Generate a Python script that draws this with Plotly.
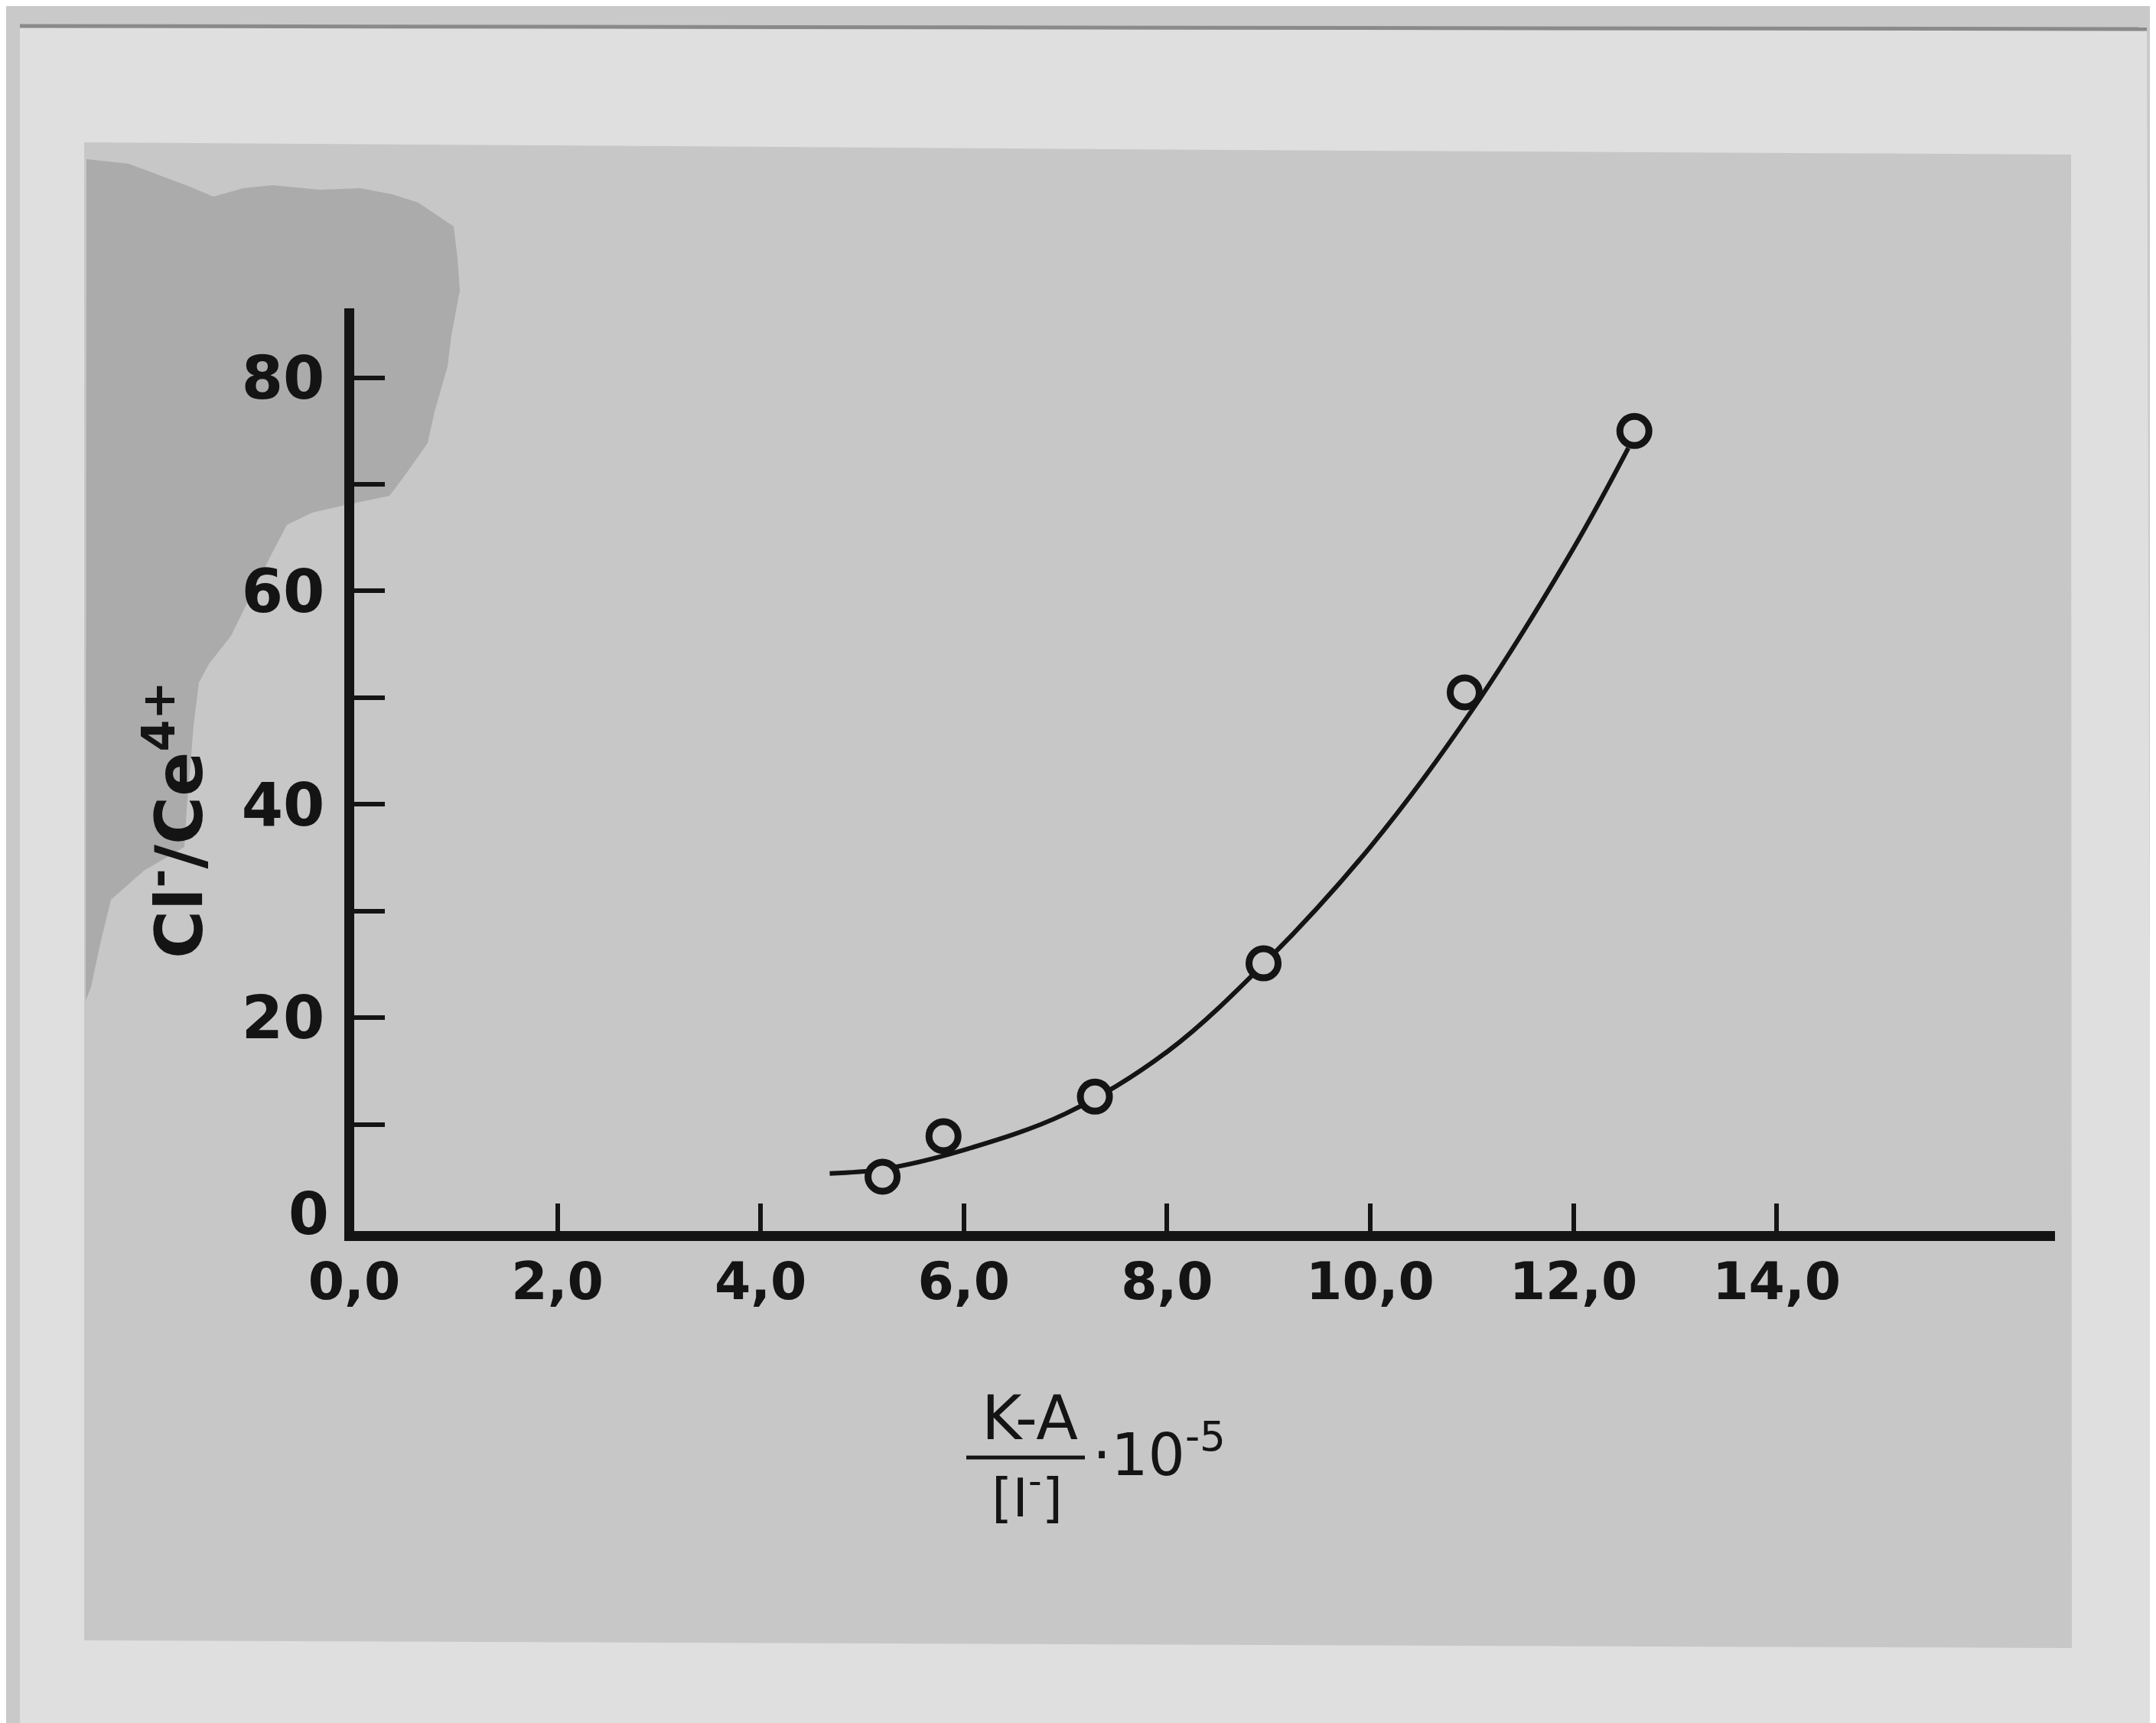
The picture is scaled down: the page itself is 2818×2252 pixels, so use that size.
import plotly.graph_objects as go

# ---- data ----
point_x = [5.20, 5.80, 7.29, 8.95, 10.93, 12.60]
point_y = [5.1, 8.9, 12.6, 25.1, 50.5, 75.0]

curve_x = [4.68, 5.20, 6.00, 7.00, 8.00, 9.00, 10.00, 11.00, 12.00, 12.54]
curve_y = [5.4, 5.8, 7.6, 11.0, 16.8, 25.5, 36.0, 48.8, 64.0, 73.4]

x_tickvals = [0, 2, 4, 6, 8, 10, 12, 14]
x_ticktext = ["0,0", "2,0", "4,0", "6,0", "8,0", "10,0", "12,0", "14,0"]
y_tickvals = [20, 40, 60, 80]
y_ticktext = ["20", "40", "60", "80"]
y_minor_tickvals = [10, 30, 50, 70]
y_zero_label = "0"

# ---- page geometry ----
W_PX, H_PX = 2818, 2252
L, R, T, B = 455, 140, 395, 651
PW = W_PX - L - R
PH = H_PX - T - B
BOTTOM = H_PX - B

def px(x):
    return (x - L) / PW

def py(y):
    return (BOTTOM - y) / PH

INK = "#141414"
INNER = "#c7c7c7"
OUTER = "#dfdfdf"
SMUDGE = "#ababab"
FONT = "DejaVu Sans"

fig = go.Figure()

fig.add_trace(go.Scatter(
    x=curve_x, y=curve_y, mode="lines",
    line=dict(color=INK, width=6, shape="spline", smoothing=1.0),
    hoverinfo="skip", showlegend=False))

fig.add_trace(go.Scatter(
    x=point_x, y=point_y, mode="markers",
    marker=dict(symbol="circle", size=38, color=INNER,
                line=dict(color=INK, width=9)),
    showlegend=False))

def path_from(pts):
    return "M " + " L ".join(f"{px(a):.5f},{py(b):.5f}" for a, b in pts) + " Z"

shapes = []
shapes.append(dict(type="path", xref="paper", yref="paper", layer="below",
                   path=path_from([(18, 24), (2798, 30), (2805, 2252), (18, 2252)]),
                   fillcolor=OUTER, line=dict(width=0)))
shapes.append(dict(type="line", xref="paper", yref="paper", layer="below",
                   x0=px(18), y0=py(26), x1=px(2798), y1=py(30),
                   line=dict(color="#8a8a8a", width=5)))
shapes.append(dict(type="path", xref="paper", yref="paper", layer="below",
                   path=path_from([(102, 178), (700, 182), (1600, 188), (2699, 194),
                                   (2700, 2146), (102, 2136)]),
                   fillcolor=INNER, line=dict(width=0)))
smudge = [(105, 200), (160, 206), (195, 219), (240, 236), (271, 249), (310, 238),
          (348, 234), (410, 240), (463, 238), (505, 246), (539, 257), (585, 288),
          (590, 330), (593, 372), (582, 430), (577, 471), (560, 530), (551, 571),
          (520, 615), (501, 640), (444, 652), (400, 662), (367, 678), (345, 720),
          (320, 770), (294, 823), (265, 860), (252, 884), (245, 940), (241, 991),
          (236, 1050), (233, 1099), (180, 1130), (137, 1168), (122, 1230),
          (111, 1282), (104, 1300)]
shapes.append(dict(type="path", xref="paper", yref="paper", layer="below",
                   path=path_from(smudge), fillcolor=SMUDGE, line=dict(width=0)))
shapes.append(dict(type="line", xref="paper", yref="paper",
                   x0=px(1255), y0=py(1897), x1=px(1410), y1=py(1897),
                   line=dict(color=INK, width=5)))

annotations = [
    dict(text="<b>Cl<sup>-</sup>/Ce<sup>4+</sup></b>", textangle=-90,
         x=px(220), y=py(1064), xref="paper", yref="paper",
         xanchor="center", yanchor="middle", showarrow=False,
         font=dict(family=FONT, size=86, color=INK)),
    dict(text=y_zero_label, x=px(395), y=py(1578), xref="paper", yref="paper",
         xanchor="center", yanchor="middle", showarrow=False,
         font=dict(family=FONT, size=76, color=INK, weight="bold")),
    dict(text="K-A", x=px(1338), y=py(1845), xref="paper", yref="paper",
         xanchor="center", yanchor="middle", showarrow=False,
         font=dict(family=FONT, size=80, color=INK)),
    dict(text="[I<sup>-</sup>]", x=px(1334), y=py(1945), xref="paper", yref="paper",
         xanchor="center", yanchor="middle", showarrow=False,
         font=dict(family=FONT, size=70, color=INK)),
    dict(text="·10<sup>-5</sup>", x=px(1418), y=py(1888), xref="paper", yref="paper",
         xanchor="left", yanchor="middle", showarrow=False,
         font=dict(family=FONT, size=76, color=INK)),
]

fig.update_layout(
    width=W_PX, height=H_PX,
    margin=dict(l=L, r=R, t=T, b=B, pad=0),
    paper_bgcolor="#c9c9c9",
    plot_bgcolor="rgba(0,0,0,0)",
    shapes=shapes, annotations=annotations,
    showlegend=False,
)

fig.update_xaxes(
    range=[0, 16.74], showgrid=False, zeroline=False,
    showline=True, linecolor=INK, linewidth=13,
    tickmode="array", tickvals=x_tickvals, ticktext=x_ticktext,
    ticks="inside", ticklen=36, tickwidth=6, tickcolor=INK,
    ticklabelstandoff=-6,
    tickfont=dict(family=FONT, size=68, color=INK, weight="bold"),
)
fig.update_yaxes(
    range=[0, 86.5], showgrid=False, zeroline=False,
    showline=True, linecolor=INK, linewidth=13,
    tickmode="array", tickvals=y_tickvals, ticktext=y_ticktext,
    ticks="inside", ticklen=40, tickwidth=6, tickcolor=INK,
    ticklabelstandoff=10,
    tickfont=dict(family=FONT, size=78, color=INK, weight="bold"),
    minor=dict(tickmode="array", tickvals=y_minor_tickvals, ticks="inside",
               ticklen=40, tickwidth=6, tickcolor=INK, showgrid=False),
)

fig.write_html("out.html")
